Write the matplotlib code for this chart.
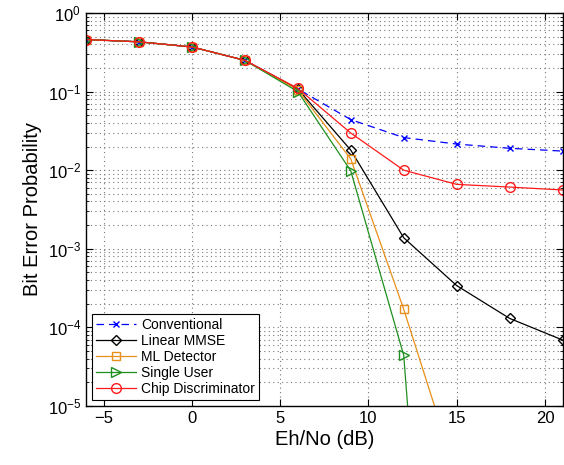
import matplotlib
matplotlib.use("Agg")
import matplotlib.pyplot as plt
from matplotlib.ticker import LogLocator, NullFormatter

plt.rcParams["font.family"] = ["Liberation Sans", "DejaVu Sans"]

ebno = [-6, -3, 0, 3, 6, 9, 12, 15, 18, 21]
conventional = [0.46, 0.43, 0.37, 0.25, 0.108, 0.044, 0.026, 0.0215, 0.019, 0.0175]
linear_mmse = [0.46, 0.43, 0.37, 0.25, 0.108, 0.018, 0.00138, 3.4e-4, 1.3e-4, 6.9e-5]
ml_detector = [0.46, 0.43, 0.37, 0.25, 0.105, 0.0139, 1.7e-4, 1.3e-6, 1e-8, 1e-10]
single_user = [0.46, 0.43, 0.37, 0.25, 0.100, 0.0098, 4.4e-5, 8e-14, 1e-20, 1e-25]
chip_disc = [0.46, 0.43, 0.37, 0.25, 0.110, 0.0297, 0.0100, 0.0066, 0.0061, 0.0056]

fig = plt.figure(figsize=(5.64, 4.65), dpi=100)
ax = fig.add_axes([0.1525, 0.127, 0.845, 0.845])

ax.semilogy(ebno, conventional, "--", color="#0000ff", marker="x", markersize=5,
            linewidth=0.9, dashes=(6, 4), label="Conventional")
ax.semilogy(ebno, linear_mmse, "-", color="black", marker="D", markersize=5,
            markerfacecolor="none", linewidth=0.9, label="Linear MMSE")
ax.semilogy(ebno, ml_detector, "-", color="#e8901a", marker="s", markersize=5.5,
            markerfacecolor="none", linewidth=0.9, label="ML Detector")
ax.semilogy(ebno, single_user, "-", color="#1f8f1f", marker=">", markersize=6.5,
            markerfacecolor="none", linewidth=0.9, label="Single User")
ax.semilogy(ebno, chip_disc, "-", color="#ff1a1a", marker="o", markersize=7,
            markerfacecolor="none", linewidth=0.9, label="Chip Discriminator")

ax.set_xlim(-6, 21)
ax.set_ylim(1e-5, 1)
ax.set_xticks([-5, 0, 5, 10, 15, 20])
ax.yaxis.set_major_locator(LogLocator(base=10, numticks=10))
ax.yaxis.set_minor_locator(LogLocator(base=10, subs=range(2, 10), numticks=10))
ax.yaxis.set_minor_formatter(NullFormatter())

ax.grid(True, which="major", linestyle=(0, (1, 3)), color="#777777", linewidth=0.8)
ax.grid(True, which="minor", axis="y", linestyle=(0, (1, 3)), color="#777777", linewidth=0.8)
ax.tick_params(which="both", direction="in", top=True, right=True, labelsize=12)
ax.tick_params(which="major", length=5)
ax.tick_params(which="minor", length=2.5)
for s in ax.spines.values():
    s.set_linewidth(1.0)

ax.set_xlabel("Eh/No (dB)", fontsize=14.5, labelpad=3)
ax.set_ylabel("Bit Error Probability", fontsize=14.5, labelpad=4)

leg = ax.legend(loc="lower left", fontsize=10, handlelength=2.9, borderpad=0.3,
                labelspacing=0.15, handletextpad=0.35, fancybox=False,
                framealpha=1, edgecolor="black", borderaxespad=0.4)
leg.get_frame().set_linewidth(0.8)

fig.savefig("out.png", dpi=100)
